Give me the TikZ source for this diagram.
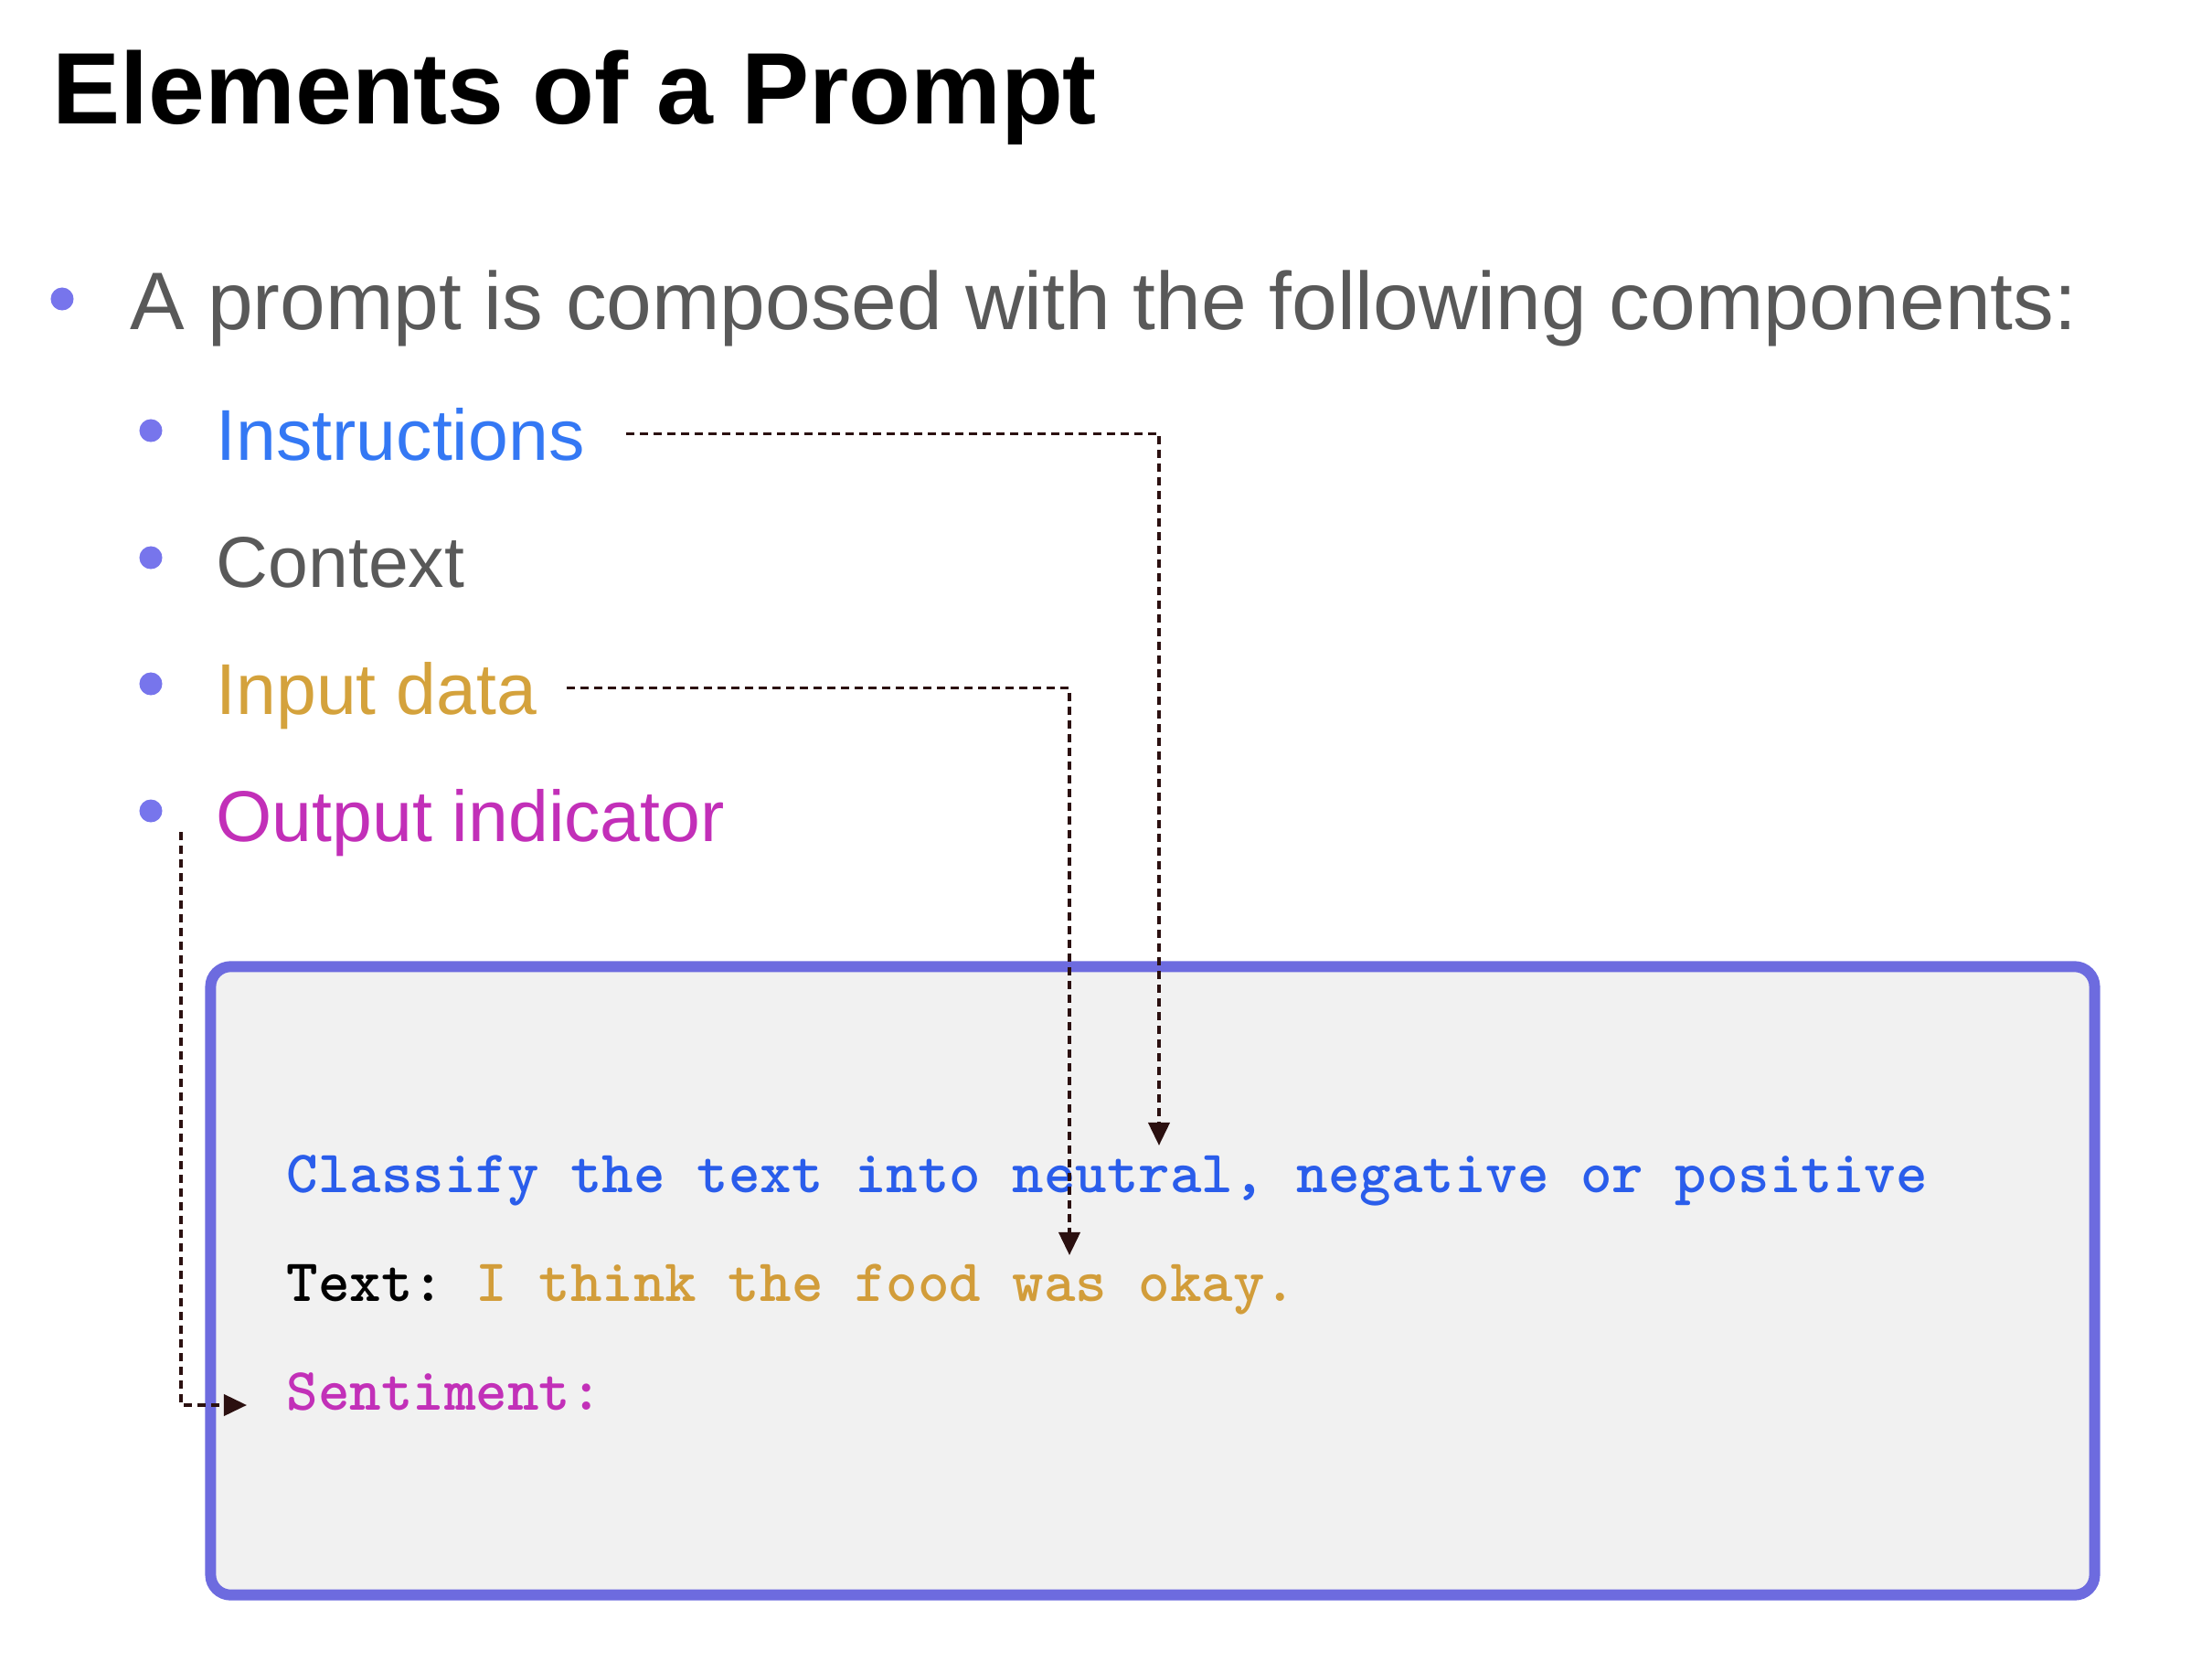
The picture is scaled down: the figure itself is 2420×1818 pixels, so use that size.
\documentclass[tikz,border=0pt]{standalone}
\usepackage{fontspec}
\setmainfont{Liberation Sans}
\usetikzlibrary{arrows.meta}

\definecolor{bulletviolet}{HTML}{7775EC}
\definecolor{leadgray}{HTML}{595959}
\definecolor{instrblue}{HTML}{3478F4}
\definecolor{inputgold}{HTML}{D4A23C}
\definecolor{outputpink}{HTML}{C22FB8}
\definecolor{boxviolet}{HTML}{6D6BDF}
\definecolor{boxfill}{HTML}{F1F1F1}
\definecolor{codeblue}{HTML}{2A5DEB}
\definecolor{codegold}{HTML}{D29D3A}
\definecolor{codepink}{HTML}{C230B8}
\definecolor{linkbrown}{HTML}{2B1010}

\tikzset{
  titletext/.style={anchor=base west, inner sep=0pt, font=\bfseries\fontsize{31.6}{38}\selectfont},
  leadtext/.style={anchor=base west, inner sep=0pt, text=leadgray, font=\fontsize{25.4}{30}\selectfont},
  itemtext/.style={anchor=base west, inner sep=0pt, text depth=0pt, font=\fontsize{22.4}{27}\selectfont},
  dot/.style={circle, fill=bulletviolet, inner sep=0pt, minimum size=0.25cm},
  promptbox/.style={draw=boxviolet, fill=boxfill, line width=3.4pt, rounded corners=0.22cm, inner sep=0pt},
  codetext/.style={anchor=base west, inner sep=0pt, font=\ttfamily\bfseries\frenchspacing\fontsize{18.7}{22}\selectfont},
  link/.style={draw=linkbrown, line width=1.1pt, dash pattern=on 0.09cm off 0.06cm,
    -{Triangle[length=0.25cm, width=0.23cm]}},
}

\begin{document}
\begin{tikzpicture}[x=0.01cm, y=-0.01cm]
  \useasboundingbox (0,0) rectangle (2420,1818);

  \node[titletext] (title) at (57,136) {Elements of a Prompt};

  \node[dot] (d0) at (68,327) {};
  \node[leadtext] (lead) at (142,360) {A prompt is composed with the following components:};

  % the four components
  \node[dot] (d1) at (165,471) {};
  \node[itemtext, text=instrblue] (instr) at (236,503) {Instructions};
  \node[dot] (d2) at (165,610) {};
  \node[itemtext, text=leadgray] (context) at (236,642) {Context};
  \node[dot] (d3) at (165,748) {};
  \node[itemtext, text=inputgold] (input) at (236,781) {Input data};
  \node[dot] (d4) at (165,887) {};
  \node[itemtext, text=outputpink] (output) at (236,920) {Output indicator};

  % example prompt
  \node[promptbox, minimum width=20.6cm, minimum height=6.87cm] (box) at (1261,1401) {};
  \node[codetext, text=codeblue] (classify) at (313,1304) {Classify the text into neutral, negative or positive};
  \node[codetext, text=black] (textline) at (313,1423) {Text: \textcolor{codegold}{I think the food was okay.}};
  \node[codetext, text=codepink] (sentiment) at (313,1542) {Sentiment:};

  \coordinate (instrtip) at (1268,1253);
  \coordinate (inputtip) at (1170,1373);
  \coordinate (outtail) at (198,910);
  \coordinate (outtip) at (270,1537);

  \draw[link] ([xshift=0.45cm]instr.east) -| (instrtip);
  \draw[link] ([xshift=0.32cm]input.east) -| (inputtip);
  \draw[link] (outtail) |- (outtip);
\end{tikzpicture}
\end{document}
